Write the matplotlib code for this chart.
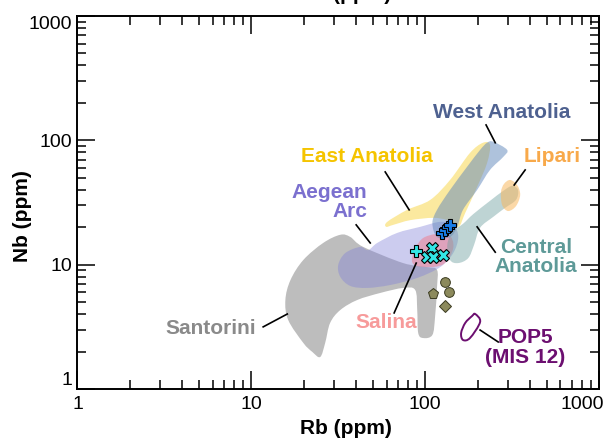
import numpy as np
import matplotlib
matplotlib.use("Agg")
import matplotlib.pyplot as plt
from matplotlib.path import Path
from matplotlib.patches import PathPatch
from matplotlib.ticker import LogLocator, NullFormatter
import matplotlib.transforms as mtransforms

plt.rcParams['font.family'] = ['Liberation Sans', 'DejaVu Sans']

### Compositional fields (Rb, Nb in ppm) ###
santorini_rb = [32.5, 37.1, 44.0, 74.7, 102.6, 117, 117, 114, 110, 97.4, 91.2, 90.0, 87.6, 74.7,
                55.1, 40.7, 32.5, 28.4, 26.6, 24.9, 22.4, 19.9, 16.3, 15.7, 16.8, 19.9, 25.9]
santorini_nb = [17.4, 16.7, 13.9, 10.3, 9.56, 9.07, 6.62, 3.80, 2.72, 2.57, 2.82, 4.32, 6.26, 6.50,
                5.92, 5.20, 4.32, 3.40, 2.35, 1.81, 1.99, 2.35, 3.59, 5.20, 7.53, 10.9, 14.95]

aegean_rb = [32.5, 31.6, 34.7, 42.3, 47.0, 53.0, 69.0, 93.6, 122, 145, 155, 145, 122, 90.0, 62.9, 46.4, 37.1]
aegean_nb = [7.97, 9.94, 12.4, 13.9, 13.1, 14.95, 18.0, 20.15, 22.1, 20.9, 16.7, 12.4, 9.56, 7.82, 6.86, 6.50, 6.74]

salina_rb = [84.2, 97.4, 134, 145, 125, 90.0]
salina_nb = [11.5, 16.4, 17.6, 13.65, 9.94, 9.75]

east_rb = [60.5, 78.8, 107, 139, 181, 215, 236, 227, 199, 170, 155, 134, 111, 82.0, 65.5, 59.7]
east_nb = [22.1, 27.6, 33.2, 48.0, 79.2, 95.6, 91.8, 65.7, 42.2, 26.1, 20.15, 22.8, 23.8, 22.8, 20.9, 20.15]

west_rb = [246, 296, 281, 236, 199, 165, 153, 139, 117, 110, 117, 139, 174, 207, 227]
west_nb = [97.5, 83.8, 73.5, 57.8, 39.9, 27.6, 20.15, 16.7, 16.7, 21.6, 27.6, 39.9, 61.1, 83.8, 95.6]

central_rb = [134, 143, 165, 189, 236, 281, 316, 342, 333, 288, 246, 207, 191, 177, 155, 139]
central_nb = [14.4, 18.3, 21.3, 25.5, 32.6, 39.2, 43.0, 39.9, 33.2, 28.6, 24.2, 19.8, 14.4, 11.3, 10.3, 10.9]

lipari_rb = [308, 338, 352, 333, 300, 277, 273, 284]
lipari_nb = [48.0, 43.7, 36.4, 29.6, 27.0, 30.2, 38.4, 44.6]

pop5_rb = [194, 207, 181, 165, 161, 170, 186]
pop5_nb = [4.01, 3.46, 2.57, 2.48, 2.82, 3.40, 3.86]

### Individual analyses ###
blue_plus_rb = [125, 130, 136, 139]
blue_plus_nb = [18.0, 19.0, 20.15, 20.9]
cyan_plus_rb = [88.8]
cyan_plus_nb = [12.9]
cyan_x_rb = [110, 103, 111, 127]
cyan_x_nb = [13.65, 11.5, 11.5, 12.0]
olive_circle_rb = [130, 137]
olive_circle_nb = [7.26, 6.03]
olive_pent_rb = [111]
olive_pent_nb = [5.81]
olive_diam_rb = [130]
olive_diam_nb = [4.65]

### Labels: text, position, leader line ###
labels = ["West Anatolia", "East Anatolia", "Lipari", "Aegean\nArc", "Central\nAnatolia",
          "Santorini", "Salina", "POP5\n(MIS 12)"]
label_rb = [277, 46.4, 537, 46.4, 435, 5.81, 59.7, 376]
label_nb = [166, 73.5, 73.5, 31.9, 11.5, 3.09, 3.40, 2.17]
label_col = ["#4e6190", "#f5c400", "#f8a94a", "#7b70cf", "#5e9a98", "#8a8a8a", "#f79b9b", "#6c0f70"]
label_ha = ["center", "center", "center", "right", "center", "center", "center", "center"]
leader_rb = [(224, 253), (58.9, 80.9), (376, 325), (40.1, 48.3), (199, 253), (11.7, 16.1), (66.3, 88.8), (207, 263)]
leader_nb = [(133, 95.6), (55.7, 27.6), (57.8, 43.7), (20.9, 14.95), (20.15, 12.6), (3.16, 4.01), (4.09, 10.3), (2.98, 2.39)]

tick_vals = [1, 10, 100, 1000]
tick_text = ["1", "10", "100", "1000"]


def blob(ax, rb, nb, **kw):
    # closed Catmull-Rom curve through the outline points, built in log space
    p = np.log10(np.column_stack([rb, nb]).astype(float))
    n = len(p)
    verts = [p[0]]
    codes = [Path.MOVETO]
    for i in range(n):
        p0, p1, p2, p3 = p[i - 1], p[i], p[(i + 1) % n], p[(i + 2) % n]
        verts += [p1 + (p2 - p0) / 6, p2 - (p3 - p1) / 6, p2]
        codes += [Path.CURVE4] * 3
    verts.append(p[0])
    codes.append(Path.CLOSEPOLY)
    patch = PathPatch(Path(10 ** np.array(verts), codes), **kw)
    ax.add_patch(patch)
    return patch


def main():
    fig = plt.figure(figsize=(6.11, 4.46), dpi=100)
    ax = fig.add_axes([0.1268, 0.1278, 0.8536, 0.8363])
    ax.set_xscale('log')
    ax.set_yscale('log')
    ax.set_xlim(1, 1000)
    ax.set_ylim(1, 1000)

    blob(ax, santorini_rb, santorini_nb, facecolor='#bdbdbd', edgecolor='none', zorder=1)
    blob(ax, aegean_rb, aegean_nb, facecolor='#8080d8', alpha=0.4, edgecolor='none', zorder=2)
    blob(ax, salina_rb, salina_nb, facecolor='#f07a8a', alpha=0.5, edgecolor='none', zorder=3)
    blob(ax, east_rb, east_nb, facecolor='#f8d850', alpha=0.55, edgecolor='none', zorder=3)
    blob(ax, west_rb, west_nb, facecolor='#5f86bb', alpha=0.5, edgecolor='none', zorder=4)
    blob(ax, central_rb, central_nb, facecolor='#70a0a0', alpha=0.45, edgecolor='none', zorder=4)
    blob(ax, lipari_rb, lipari_nb, facecolor='#f8b860', alpha=0.55, edgecolor='none', zorder=4)
    blob(ax, pop5_rb, pop5_nb, facecolor='none', edgecolor='#6c0f70', lw=1.4, zorder=5)

    ax.plot(blue_plus_rb, blue_plus_nb, 'P', ms=9, mfc='#1a7ee8', mec='black', mew=0.8, ls='none', zorder=6)
    ax.plot(cyan_plus_rb, cyan_plus_nb, 'P', ms=9, mfc='#33e6e6', mec='black', mew=0.8, ls='none', zorder=6)
    ax.plot(cyan_x_rb, cyan_x_nb, 'X', ms=9, mfc='#33e6e6', mec='black', mew=0.8, ls='none', zorder=6)
    ax.plot(olive_circle_rb, olive_circle_nb, 'o', ms=7, mfc='#8c8a5c', mec='#3a3a20', mew=0.7, ls='none', zorder=6)
    ax.plot(olive_pent_rb, olive_pent_nb, 'p', ms=8, mfc='#8c8a5c', mec='#3a3a20', mew=0.7, ls='none', zorder=6)
    ax.plot(olive_diam_rb, olive_diam_nb, 'D', ms=6.5, mfc='#8c8a5c', mec='#3a3a20', mew=0.7, ls='none', zorder=6)

    for txt, x, y, c, ha, lx, ly in zip(labels, label_rb, label_nb, label_col, label_ha, leader_rb, leader_nb):
        ax.text(x, y, txt, color=c, ha=ha, va='center', multialignment=ha,
                fontsize=15, fontweight='bold', linespacing=1.05, zorder=7)
        ax.plot(lx, ly, color='black', lw=1.2, zorder=7)

    ### Axes styling ###
    for s in ax.spines.values():
        s.set_linewidth(1.4)
    ax.set_xticks(tick_vals)
    ax.set_xticklabels(tick_text)
    ax.set_yticks(tick_vals)
    ax.set_yticklabels(tick_text)
    for axis in (ax.xaxis, ax.yaxis):
        axis.set_minor_locator(LogLocator(base=10, subs=np.arange(2, 10)))
        axis.set_minor_formatter(NullFormatter())
    ax.tick_params(which='both', direction='in', top=True, right=True, width=1.1, labelsize=14)
    ax.tick_params(which='major', length=13)
    ax.tick_params(which='minor', length=6.5)
    ax.tick_params(axis='x', pad=5)
    ax.tick_params(axis='y', pad=4)

    ylabs = ax.get_yticklabels()
    ylabs[0].set_va('bottom')
    ylabs[-1].set_va('top')
    xlabs = ax.get_xticklabels()
    xlabs[-1].set_ha('right')
    xlabs[-1].set_transform(xlabs[-1].get_transform() +
                            mtransforms.ScaledTranslation(5 / 100, 0, fig.dpi_scale_trans))

    ax.set_xlabel("Rb (ppm)", fontsize=15, fontweight='bold')
    ax.set_ylabel("Nb (ppm)", fontsize=15, fontweight='bold')
    ax.xaxis.set_label_coords(0.515, -0.080)
    ax.yaxis.set_label_coords(-0.087, 0.464)

    # bottom of the axis title belonging to the panel above
    fig.text(362 / 611, 1.0, "(ppm)", ha='center', va='baseline', fontsize=15, fontweight='bold')

    fig.savefig("out.png", dpi=100)


if __name__ == "__main__":
    main()
